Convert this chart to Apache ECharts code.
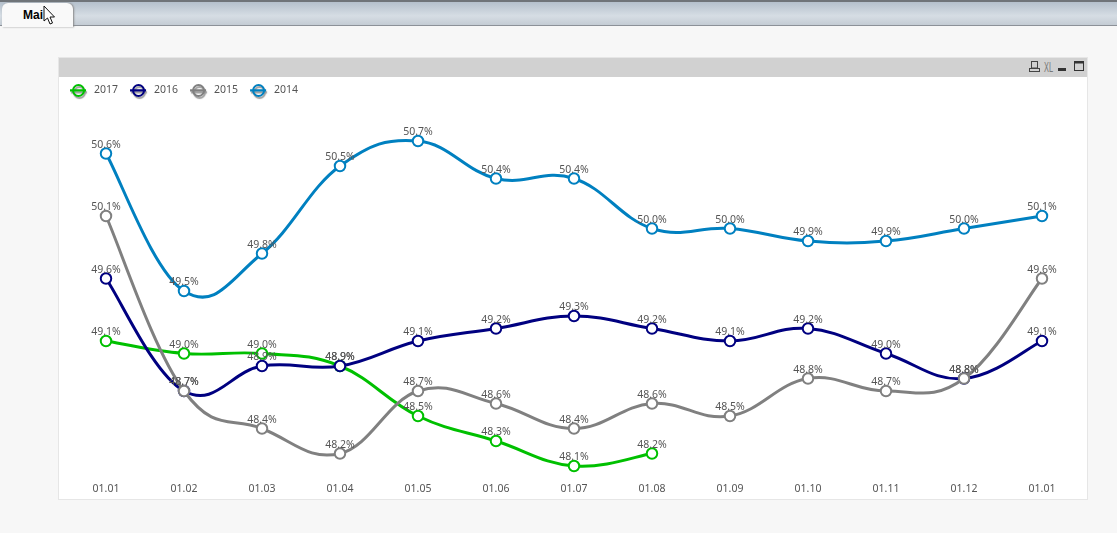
<!DOCTYPE html>
<html><head><meta charset="utf-8">
<style>
html,body{margin:0;padding:0;background:#f7f7f7;width:1117px;height:533px;overflow:hidden;font-family:"Noto Sans",sans-serif}
#strip{position:absolute;left:0;top:0;width:1117px;height:26px;box-sizing:border-box;border-top:2px solid #6f7479;border-bottom:1px solid #8c9198;background:linear-gradient(#b4c0cc,#d6dde4 60%,#c4ccd4)}
#tab{position:absolute;left:2px;top:3px;width:71px;height:24px;background:#f9f9f9;border-radius:6px 6px 0 0;box-shadow:1px 0 2px #888}
#tabt{position:absolute;left:23px;top:8px;font:bold 12px "Liberation Sans",sans-serif;color:#000}
#panel{position:absolute;left:58px;top:57px;width:1030px;height:443px;box-sizing:border-box;background:#fff;border:1px solid #e6e6e6}
#head{position:absolute;left:59px;top:58px;width:1028px;height:19px;background:#d1d1d1}
#chart{position:absolute;left:0;top:0;width:1117px;height:533px}
.ov{position:absolute}
</style></head><body>
<div id="strip"></div><div id="tab"></div><div id="tabt">Mai</div>
<div id="panel"></div><div id="head"></div>
<svg class="ov" style="left:1028px;top:60px" width="60" height="14">
<rect x="3.5" y="1.5" width="6" height="6.5" fill="none" stroke="#444"/><rect x="1.5" y="8.5" width="10" height="3" fill="none" stroke="#444"/>
<text x="16" y="12" font-family="Liberation Sans Narrow,Liberation Sans" font-size="14" fill="#777" textLength="9" lengthAdjust="spacingAndGlyphs">XL</text>
<rect x="30" y="8" width="8" height="3" fill="#333"/>
<rect x="46.5" y="1.5" width="9" height="9" fill="none" stroke="#333"/><rect x="46.5" y="1.5" width="9" height="2" fill="#333"/>
</svg>
<div id="chart"></div>
<svg class="ov" style="left:43px;top:5px;z-index:5" width="14" height="22"><path d="M1 1 L1 16 L4.5 13 L7 19 L9.5 18 L7 12 L11.5 12 Z" fill="#fff" stroke="#111" stroke-width="1"/></svg>
<script src="https://cdn.jsdelivr.net/npm/echarts@6/dist/echarts.min.js"></script>
<script>
const categories=['01.01','01.02','01.03','01.04','01.05','01.06','01.07','01.08','01.09','01.10','01.11','01.12','01.01'];
const y2017=[49.1,49.0,49.0,48.9,48.5,48.3,48.1,48.2];
const y2016=[49.6,48.7,48.9,48.9,49.1,49.2,49.3,49.2,49.1,49.2,49.0,48.8,49.1];
const y2015=[50.1,48.7,48.4,48.2,48.7,48.6,48.4,48.6,48.5,48.8,48.7,48.8,49.6];
const y2014=[50.6,49.5,49.8,50.5,50.7,50.4,50.4,50.0,50.0,49.9,49.9,50.0,50.1];
const names=['2017','2016','2015','2014'];
const colors=['#00c000','#000080','#808080','#0080c0'];
const values=[y2017,y2016,y2015,y2014];
const TENSION=1/5;
const ringIcon='path://M0 5.2H16V7.4H0ZM8.5 0A6.5 6.5 0 1 1 8.5 13A6.5 6.5 0 1 1 8.5 0ZM8.5 2A4.5 4.5 0 1 0 8.5 11A4.5 4.5 0 1 0 8.5 2Z';
const curve=(data,color,z)=>({name:'curve',type:'custom',z,silent:true,animation:false,clip:false,
 data:data.map((v,i)=>[i,v]),encode:{x:0,y:1},
 renderItem:(params,api)=>{
  const i=params.dataIndex;
  if(i>=data.length-1)return null;
  const P=k=>{const j=Math.max(0,Math.min(data.length-1,k));return api.coord([j,data[j]]);};
  const a=P(i-1),b=P(i),c=P(i+1),d=P(i+2);
  return {type:'bezierCurve',shape:{x1:b[0],y1:b[1],x2:c[0],y2:c[1],
    cpx1:b[0]+(c[0]-a[0])*TENSION,cpy1:b[1]+(c[1]-a[1])*TENSION,
    cpx2:c[0]-(d[0]-b[0])*TENSION,cpy2:c[1]-(d[1]-b[1])*TENSION},
   style:{stroke:color,lineWidth:3,fill:null,lineCap:'round'}};
 }});
const points=(name,data,color,z)=>({name,type:'line',z,data,symbol:'emptyCircle',symbolSize:10.5,showAllSymbol:true,
 lineStyle:{color,width:0,opacity:0},itemStyle:{color,borderColor:color,borderWidth:1.8},
 label:{show:true,position:'top',distance:-3,color:'#555',fontSize:10.5,fontFamily:'Noto Sans',formatter:p=>p.value.toFixed(1)+'%'},
 emphasis:{disabled:true},animation:false});
const series=[];
names.forEach((n,i)=>{series.push(curve(values[i],colors[i],2+2*i));series.push(points(n,values[i],colors[i],3+2*i));});
const chart=echarts.init(document.getElementById('chart'),null,{renderer:'canvas'});
chart.setOption({backgroundColor:'transparent',animation:false,
 legend:{left:70,top:84,padding:0,itemWidth:16,itemHeight:13,itemGap:12,selectedMode:false,
  data:names.map((n,i)=>({name:n,icon:ringIcon,itemStyle:{color:colors[i],borderWidth:0,shadowColor:'rgba(90,90,90,0.6)',shadowBlur:1,shadowOffsetX:1,shadowOffsetY:2}})),
  textStyle:{color:'#555',fontSize:10.5,fontFamily:'Noto Sans',padding:[0,0,2,3]}},
 grid:{left:106,right:75,top:141,bottom:67},
 xAxis:{type:'category',boundaryGap:false,data:categories,axisLine:{show:false},axisTick:{show:false},splitLine:{show:false},
  axisLabel:{interval:0,margin:18,color:'#555',fontSize:10.5,fontFamily:'Noto Sans'}},
 yAxis:{type:'value',min:48.1,max:50.7,show:false},
 series
});
</script></body></html>
